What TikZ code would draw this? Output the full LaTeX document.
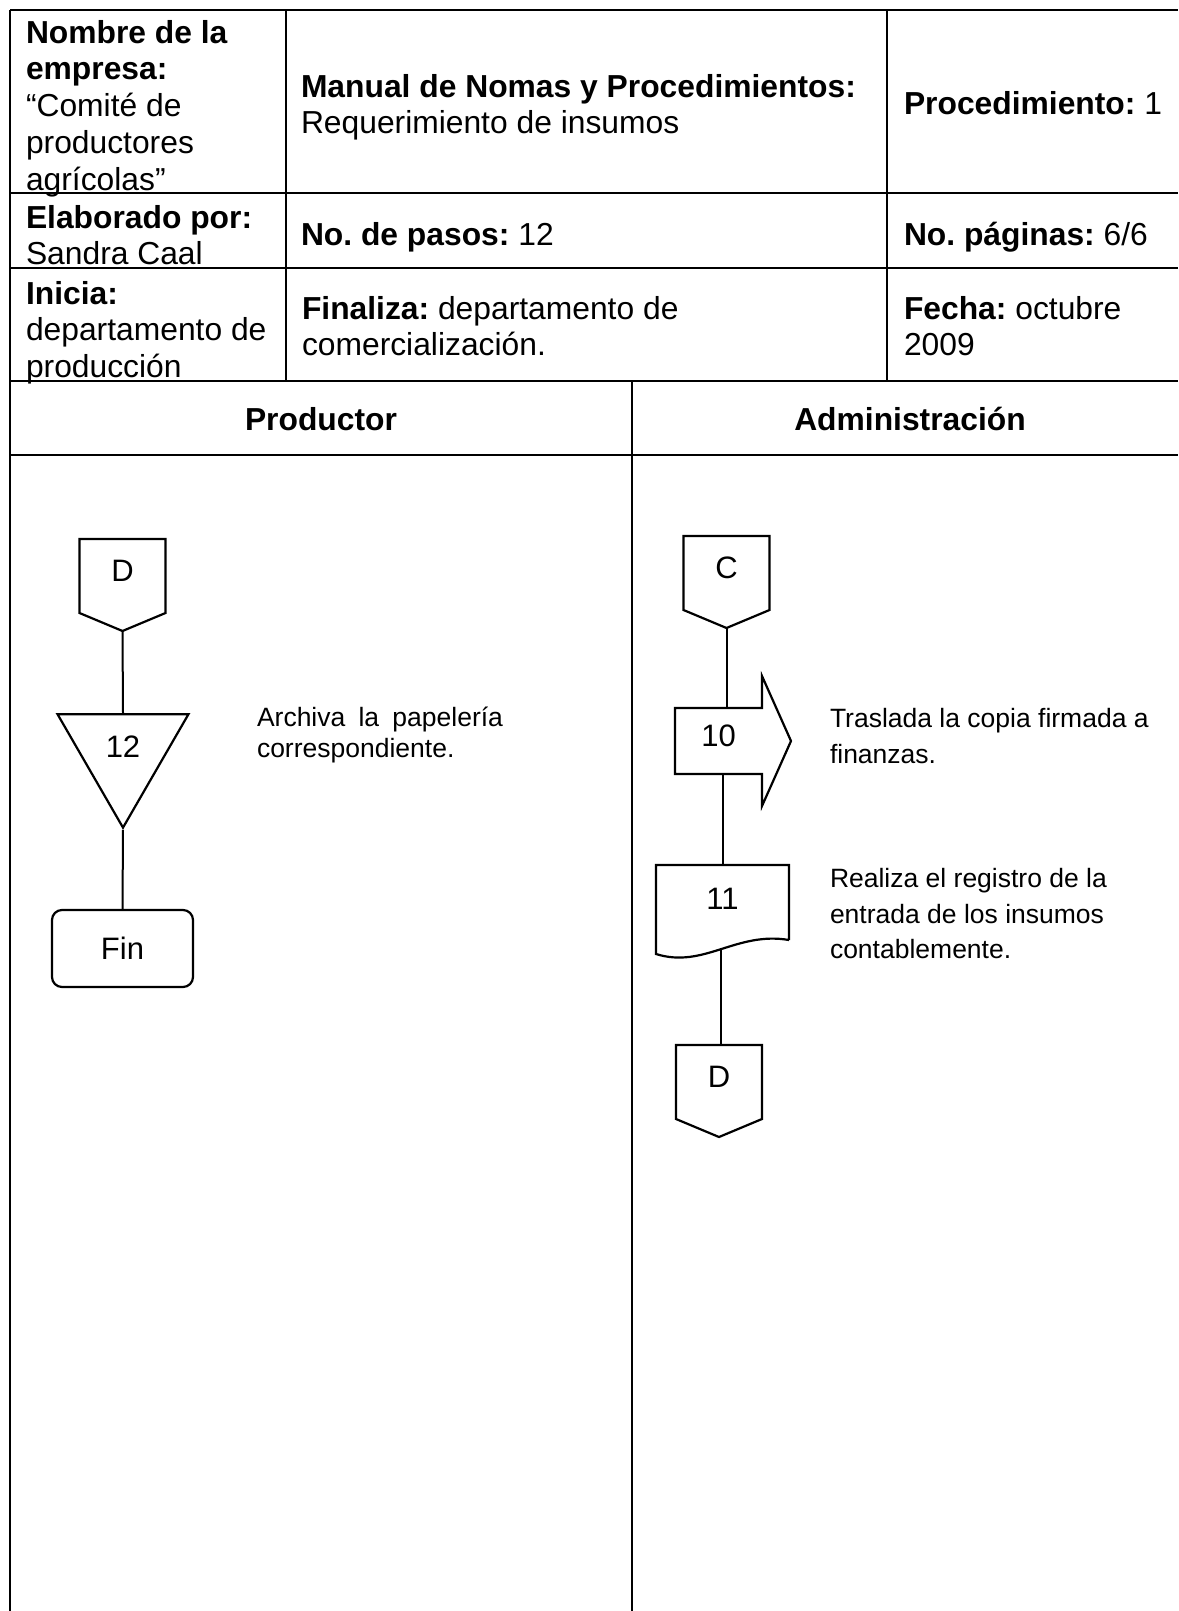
\documentclass[tikz,border=0pt]{standalone}
\usepackage{fontspec}
\setmainfont{Liberation Sans}
\usepackage{tikz}
\usetikzlibrary{shapes.geometric}

\newcommand{\hdrfont}{\fontsize{15.9}{18.4}\selectfont}
\newcommand{\notefont}{\fontsize{13.25}{15.4}\selectfont}
\newcommand{\notefontb}{\fontsize{13.25}{17.9}\selectfont}
\newcommand{\shpfont}{\fontsize{15.5}{18}\selectfont}
\hbadness=10000
\frenchspacing

\tikzset{
    cell/.style={anchor=north west, inner sep=0pt, align=left, font=\hdrfont},
    lanehead/.style={inner sep=0pt, font=\hdrfont\bfseries},
    note/.style={anchor=north west, inner sep=0pt, align=left, font=\notefontb},
    shp/.style={line width=1.1pt},
    conn/.style={rectangle, minimum width=42pt, minimum height=36pt, inner sep=0pt, font=\shpfont, text depth=5pt},
    arrowbox/.style={rectangle, minimum width=42.5pt, minimum height=32pt, inner sep=0pt, font=\shpfont, text depth=5pt},
    docbox/.style={rectangle, minimum width=65.5pt, minimum height=36.5pt, inner sep=0pt, font=\shpfont, text depth=4pt},
    tri/.style={regular polygon, regular polygon sides=3, shape border rotate=180, minimum size=75.6pt, inner sep=0pt, draw, shp, font=\shpfont, text depth=5pt},
    finbox/.style={rectangle, rounded corners=5pt, draw, shp, minimum width=70.5pt, minimum height=38.5pt, inner sep=0pt, font=\shpfont},
}

\begin{document}
\begin{tikzpicture}[x=0.5pt, y=-0.5pt, line width=1pt]
    \useasboundingbox (0,0) rectangle (1178,1611);

    % Encabezado
    \draw (10,10) -- (1178,10);
    \draw (10,193) -- (1178,193);
    \draw (10,268) -- (1178,268);
    \draw (10,381) -- (1178,381);
    \draw (10,455) -- (1178,455);
    \draw (10,10) -- (10,1611);
    \draw (286,10) -- (286,381);
    \draw (887,10) -- (887,381);
    \draw (632,381) -- (632,1611);

    \node[cell] (empresa) at (25,19) {\textbf{Nombre de la}\\\textbf{empresa:}\\“Comité de\\productores\\agrícolas”};
    \node[cell] (manual) at (300,73) {\textbf{Manual de Nomas y Procedimientos:}\\Requerimiento de insumos};
    \node[cell] (proc) at (903,90) {\textbf{Procedimiento:} 1};
    \node[cell] (elab) at (25,204) {\textbf{Elaborado por:}\\Sandra Caal};
    \node[cell] (pasos) at (300,221) {\textbf{No. de pasos:} 12};
    \node[cell] (paginas) at (903,221) {\textbf{No. páginas:} 6/6};
    \node[cell] (inicia) at (25,280) {\textbf{Inicia:}\\departamento de\\producción};
    \node[cell] (finaliza) at (301,295) {\textbf{Finaliza:} departamento de\\comercialización.};
    \node[cell] (fecha) at (903,295) {\textbf{Fecha:} octubre\\2009};
    \node[lanehead] (productor) at (321,419) {Productor};
    \node[lanehead] (admin) at (910,419) {Administración};

    % Productor
    \node[conn] (dA) at (122.5,576) {D};
    \draw[shp] (dA.south west) -- (dA.north west) -- (dA.north east) -- (dA.south east) -- ([yshift=-9pt]dA.south) -- cycle;
    \coordinate (dAp) at ([yshift=-9pt]dA.south);
    \node[tri] (t12) at (123,752) {12};
    \node[note, font=\notefont, text width=123pt, align=justify] (n12) at (256,706) {Archiva la papelería correspondiente.};
    \node[finbox] (fin) at (122.5,948.5) {Fin};
    \draw (dAp) -- (t12.north);
    \draw (t12.south) -- (fin.north);

    % Administracion
    \node[conn] (cC) at (726.5,573) {C};
    \draw[shp] (cC.south west) -- (cC.north west) -- (cC.north east) -- (cC.south east) -- ([yshift=-9pt]cC.south) -- cycle;
    \coordinate (cCp) at ([yshift=-9pt]cC.south);
    \node[arrowbox] (a10) at (718.5,741) {10};
    \draw[shp] (a10.north west) -- (a10.north east) -- ([yshift=16pt]a10.north east) -- ([xshift=14.5pt]a10.east) -- ([yshift=-16pt]a10.south east) -- (a10.south east) -- (a10.south west) -- cycle;
    \node[note] (n10) at (829,707) {Traslada la copia firmada a\\finanzas.};
    \node[docbox] (d11) at (722.5,902.5) {11};
    \draw[shp] (d11.south east) -- (d11.north east) -- (d11.north west) -- ([yshift=-7pt]d11.south west) .. controls ([shift={(24pt,-14.5pt)}]d11.south west) and ([shift={(-26.5pt,4.5pt)}]d11.south east) .. (d11.south east) coordinate[pos=0.5] (d11w);
    \node[note] (n11) at (829,867) {Realiza el registro de la\\entrada de los insumos\\contablemente.};
    \node[conn] (dB) at (719,1082) {D};
    \draw[shp] (dB.south west) -- (dB.north west) -- (dB.north east) -- (dB.south east) -- ([yshift=-9pt]dB.south) -- cycle;
    \draw (cCp) -- (cCp |- a10.north);
    \draw (d11.north |- a10.south) -- (d11.north);
    \draw (d11w) -- (d11w |- dB.north);
\end{tikzpicture}
\end{document}
